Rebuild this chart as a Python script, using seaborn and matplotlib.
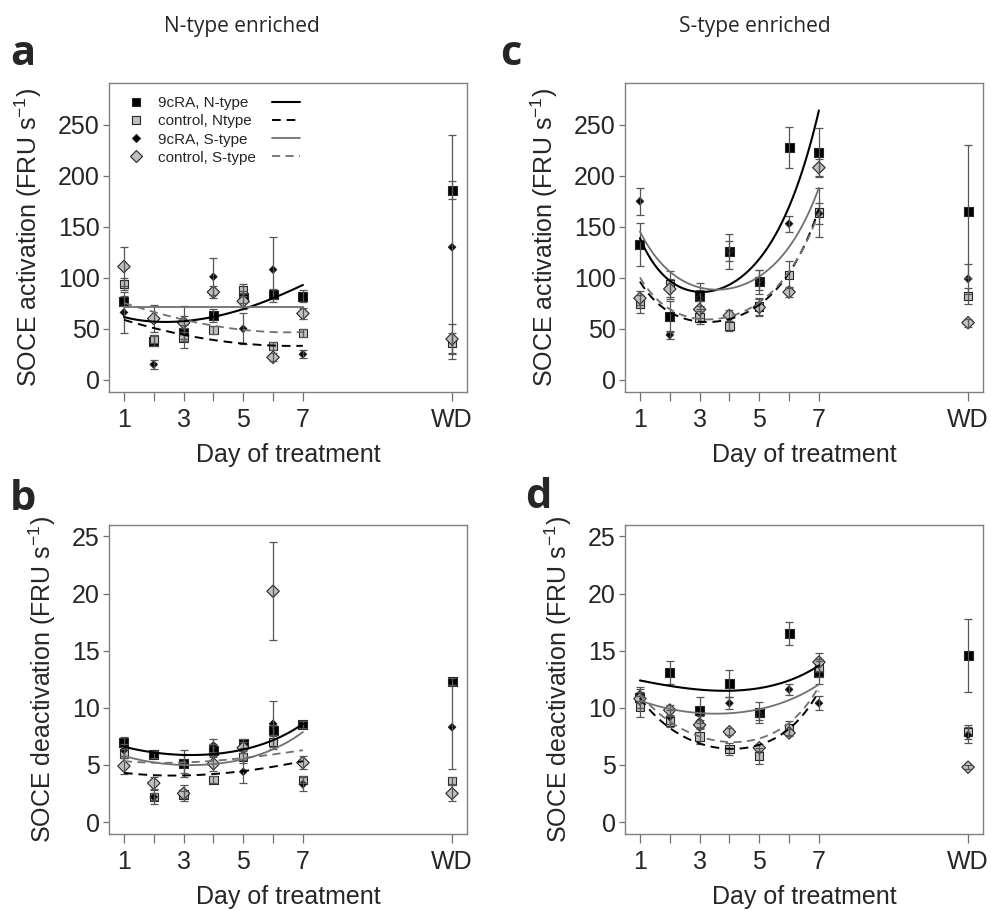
import numpy as np
import pandas as pd
import matplotlib
matplotlib.use('Agg')
import matplotlib.pyplot as plt
from matplotlib.lines import Line2D
import seaborn as sns

# x categories: treatment days 1-7 plus withdrawal (WD)
days = [1, 2, 3, 4, 5, 6, 7]
wd_x = 12
tick_labels = ['1', '', '3', '', '5', '', '7', 'WD']
series = ['9cRA, N-type', 'control, Ntype', '9cRA, S-type', 'control, S-type']

# ---- panel a: SOCE activation, N-type enriched (days 1-7, WD) ----
a_ra_n = [77, 38, 46, 63, 81, 84, 82, 186]
a_ra_n_se = [5, 5, 8, 6, 6, 5, 6, 9]
a_ctl_n = [94, 40, 41, 49, 88, 33, 46, 36]
a_ctl_n_se = [6, 4, 10, 4, 6, 4, 4, 10]
a_ra_s = [66, 15, 55, 101, 50, 108, 25, 130]
a_ra_s_se = [20, 4, 8, 18, 15, 32, 4, 110]
a_ctl_s = [111, 60, 56, 86, 77, 22, 65, 40]
a_ctl_s_se = [19, 13, 16, 6, 8, 4, 5, 15]
# fitted trend read at days 1-7
a_fit_ra_n = [61.5, 57.2, 57.2, 62, 69.3, 80, 93]
a_fit_ctl_n = [58.8, 50.7, 44.1, 39.2, 35.3, 33.7, 33.3]
a_fit_ra_s = [71, 71, 71, 71, 71, 71, 71]
a_fit_ctl_s = [75.2, 67, 58.8, 52.9, 49, 47, 46.7]

# ---- panel b: SOCE deactivation, N-type enriched ----
b_ra_n = [7.0, 5.9, 5.1, 6.3, 6.9, 8.0, 8.5, 12.3]
b_ra_n_se = [0.4, 0.3, 1.2, 0.5, 0.4, 0.5, 0.3, 0.3]
b_ctl_n = [6.0, 2.2, 2.4, 3.7, 5.7, 7.0, 3.7, 3.6]
b_ctl_n_se = [0.4, 0.3, 0.3, 0.3, 0.5, 0.6, 0.3, 0.3]
b_ra_s = [6.3, 2.2, 5.1, 6.7, 4.4, 8.6, 3.3, 8.3]
b_ra_s_se = [0.5, 0.6, 0.8, 0.6, 1.0, 2.0, 0.6, 3.7]
b_ctl_s = [4.9, 3.4, 2.5, 5.1, 6.5, 20.2, 5.2, 2.5]
b_ctl_s_se = [0.7, 0.5, 0.7, 0.6, 0.5, 4.3, 0.6, 0.7]
b_fit_ra_n = [6.6, 6.06, 5.92, 5.94, 6.29, 7.23, 8.57]
b_fit_ctl_n = [4.31, 4.1, 4.08, 4.2, 4.46, 4.84, 5.33]
b_fit_ra_s = [5.77, 5.27, 4.98, 5.04, 5.48, 6.44, 7.84]
b_fit_ctl_s = [5.33, 5.2, 5.2, 5.36, 5.62, 5.9, 6.29]

# ---- panel c: SOCE activation, S-type enriched ----
c_ra_n = [133, 62, 82, 126, 96, 228, 223, 165]
c_ra_n_se = [21, 15, 13, 17, 12, 20, 24, 65]
c_ctl_n = [74, 94, 61, 53, 72, 103, 164, 82]
c_ctl_n_se = [9, 13, 6, 5, 8, 13, 24, 8]
c_ra_s = [175, 44, 80, 126, 98, 153, 163, 99]
c_ra_s_se = [13, 4, 8, 10, 10, 8, 10, 15]
c_ctl_s = [80, 89, 69, 63, 71, 86, 208, 56]
c_ctl_s_se = [7, 10, 8, 5, 8, 5, 8, 4]
c_fit_ra_n = [137, 101, 84, 91.5, 121, 170, 263]
c_fit_ctl_n = [94, 70, 57, 56, 74, 110, 164]
c_fit_ra_s = [144, 108, 91.5, 86.6, 101, 134, 186]
c_fit_ctl_s = [98, 73, 60, 58, 76, 112, 160]

# ---- panel d: SOCE deactivation, S-type enriched ----
d_ra_n = [10.9, 13.1, 9.8, 12.1, 9.6, 16.5, 13.1, 14.6]
d_ra_n_se = [0.5, 1.0, 1.1, 1.2, 0.9, 1.0, 1.0, 3.2]
d_ctl_n = [10.1, 8.8, 7.5, 6.4, 5.8, 8.2, 13.5, 7.9]
d_ctl_n_se = [0.9, 0.5, 0.7, 0.5, 0.7, 0.6, 0.8, 0.6]
d_ra_s = [11.2, 9.2, 8.8, 10.4, 9.4, 11.6, 10.4, 7.6]
d_ra_s_se = [0.6, 0.6, 0.5, 0.5, 0.5, 0.5, 0.6, 0.7]
d_ctl_s = [10.8, 9.8, 8.5, 7.9, 6.5, 7.8, 14.0, 4.8]
d_ctl_s_se = [0.8, 0.4, 0.4, 0.3, 0.3, 0.3, 0.8, 0.2]
d_fit_ra_n = [12.4, 11.9, 11.6, 11.5, 11.7, 12.4, 13.7]
d_fit_ctl_n = [10.8, 8.3, 6.9, 6.35, 6.7, 8.3, 11.4]
d_fit_ra_s = [10.66, 9.85, 9.56, 9.56, 9.85, 10.66, 12.06]
d_fit_ctl_s = [11.1, 8.9, 7.5, 6.9, 7.3, 8.8, 11.8]

# ---- styling ----
GRAY_FILL = '#c0c0c0'
GRAY_LINE = '#707070'
markers = dict(zip(series, ['s', 's', 'D', 'D']))
palette = dict(zip(series, ['black', GRAY_FILL, 'black', GRAY_FILL]))
sizes = dict(zip(series, [42, 36, 14, 40]))
line_color = dict(zip(series, ['black', 'black', GRAY_LINE, GRAY_LINE]))
line_style = dict(zip(series, ['-', (0, (4.5, 3)), '-', (0, (4.5, 3))]))
line_width = dict(zip(series, [1.5, 1.4, 1.3, 1.3]))

sns.set_style('ticks')
plt.rcParams['font.family'] = ['Liberation Sans', 'DejaVu Sans']
plt.rcParams['mathtext.default'] = 'regular'

fig = plt.figure(figsize=(9.91, 9.10), dpi=100)

panels = [
    ('a', [0.1100, 0.5692, 0.3612, 0.3396],
     [a_ra_n, a_ctl_n, a_ra_s, a_ctl_s], [a_ra_n_se, a_ctl_n_se, a_ra_s_se, a_ctl_s_se],
     [a_fit_ra_n, a_fit_ctl_n, a_fit_ra_s, a_fit_ctl_s],
     (-12, 291), [0, 50, 100, 150, 200, 250], 'SOCE activation (FRU s$^{-1}$)'),
    ('b', [0.1100, 0.0835, 0.3612, 0.3396],
     [b_ra_n, b_ctl_n, b_ra_s, b_ctl_s], [b_ra_n_se, b_ctl_n_se, b_ra_s_se, b_ctl_s_se],
     [b_fit_ra_n, b_fit_ctl_n, b_fit_ra_s, b_fit_ctl_s],
     (-1.05, 26), [0, 5, 10, 15, 20, 25], 'SOCE deactivation (FRU s$^{-1}$)'),
    ('c', [0.6307, 0.5692, 0.3612, 0.3396],
     [c_ra_n, c_ctl_n, c_ra_s, c_ctl_s], [c_ra_n_se, c_ctl_n_se, c_ra_s_se, c_ctl_s_se],
     [c_fit_ra_n, c_fit_ctl_n, c_fit_ra_s, c_fit_ctl_s],
     (-12, 291), [0, 50, 100, 150, 200, 250], 'SOCE activation (FRU s$^{-1}$)'),
    ('d', [0.6307, 0.0835, 0.3612, 0.3396],
     [d_ra_n, d_ctl_n, d_ra_s, d_ctl_s], [d_ra_n_se, d_ctl_n_se, d_ra_s_se, d_ctl_s_se],
     [d_fit_ra_n, d_fit_ctl_n, d_fit_ra_s, d_fit_ctl_s],
     (-1.05, 26), [0, 5, 10, 15, 20, 25], 'SOCE deactivation (FRU s$^{-1}$)'),
]

xpos = days + [wd_x]
xs_fine = np.linspace(days[0], days[-1], 120)

axes = {}
for letter, rect, means, errs, fits, ylim, yticks, ylabel in panels:
    ax = fig.add_axes(rect)
    axes[letter] = ax

    rows = []
    for name, m, e in zip(series, means, errs):
        for x, v, s in zip(xpos, m, e):
            rows.append({'series': name, 'x': x, 'mean': v, 'se': s})
    df = pd.DataFrame(rows)

    # error bars (drawn over the markers, as in the original)
    ax.errorbar(df['x'], df['mean'], yerr=df['se'], fmt='none', ecolor='#555555',
                elinewidth=0.9, capsize=3, capthick=0.9, zorder=3.5)

    sns.scatterplot(data=df, x='x', y='mean', hue='series', style='series', size='series',
                    hue_order=series, style_order=series, size_order=series,
                    markers=markers, palette=palette, sizes=sizes,
                    edgecolor='#262626', linewidth=0.8, legend=False, ax=ax, zorder=3)

    # smooth trend on log scale through the read fit values
    for name, f in zip(series, fits):
        coef = np.polyfit(days, np.log(f), 3)
        sns.lineplot(x=xs_fine, y=np.exp(np.polyval(coef, xs_fine)), ax=ax,
                     color=line_color[name], linestyle=line_style[name],
                     linewidth=line_width[name], zorder=4)

    ax.set_xlim(0.5, 12.5)
    ax.set_ylim(*ylim)
    ax.set_xticks(xpos)
    ax.set_xticklabels(tick_labels)
    ax.set_yticks(yticks)
    for sp in ax.spines.values():
        sp.set_visible(True)
        sp.set_color('#808080')
        sp.set_linewidth(1.0)
    ax.tick_params(axis='x', direction='out', length=6.5, width=0.9, color='#707070',
                   labelsize=18, pad=5)
    ax.tick_params(axis='y', direction='out', length=4.5, width=0.9, color='#707070',
                   labelsize=18, pad=2)
    ax.set_xlabel('Day of treatment', fontsize=18, labelpad=8)
    ax.set_ylabel(ylabel, fontsize=18, labelpad=10)

# legend in panel a: marker + label, line sample on the right
ax = axes['a']
mk_handles = [Line2D([], [], linestyle='none', marker=markers[s], markersize=m,
                     markerfacecolor=palette[s], markeredgecolor='#262626', markeredgewidth=0.8)
              for s, m in zip(series, [6.2, 5.8, 3.6, 6.2])]
leg1 = ax.legend(mk_handles, series, loc='upper left', bbox_to_anchor=(0.054, 0.958),
                 frameon=False, fontsize=11, handlelength=1.0, handletextpad=0.95,
                 labelspacing=0.28, borderpad=0, borderaxespad=0)
ax.add_artist(leg1)
ln_handles = [Line2D([], [], color=line_color[s], linestyle=line_style[s], linewidth=line_width[s])
              for s in series]
ax.legend(ln_handles, ['', '', '', ''], loc='upper left', bbox_to_anchor=(0.455, 0.958),
          frameon=False, fontsize=11, handlelength=1.85, handletextpad=0,
          labelspacing=0.28, borderpad=0, borderaxespad=0)

# column titles and panel letters
fig.text(0.244, 0.965, 'N-type enriched', ha='center', va='baseline', fontsize=15,
         family=['Open Sans', 'DejaVu Sans'])
fig.text(0.762, 0.965, 'S-type enriched', ha='center', va='baseline', fontsize=15,
         family=['Open Sans', 'DejaVu Sans'])
for letter, (x, y) in zip('abcd', [(0.010, 0.9286), (0.010, 0.4396), (0.505, 0.9286), (0.530, 0.4420)]):
    fig.text(x, y, letter, ha='left', va='baseline', fontsize=30, fontweight='bold',
             family=['Open Sans', 'DejaVu Sans'])

fig.savefig('out.png', dpi=100)
